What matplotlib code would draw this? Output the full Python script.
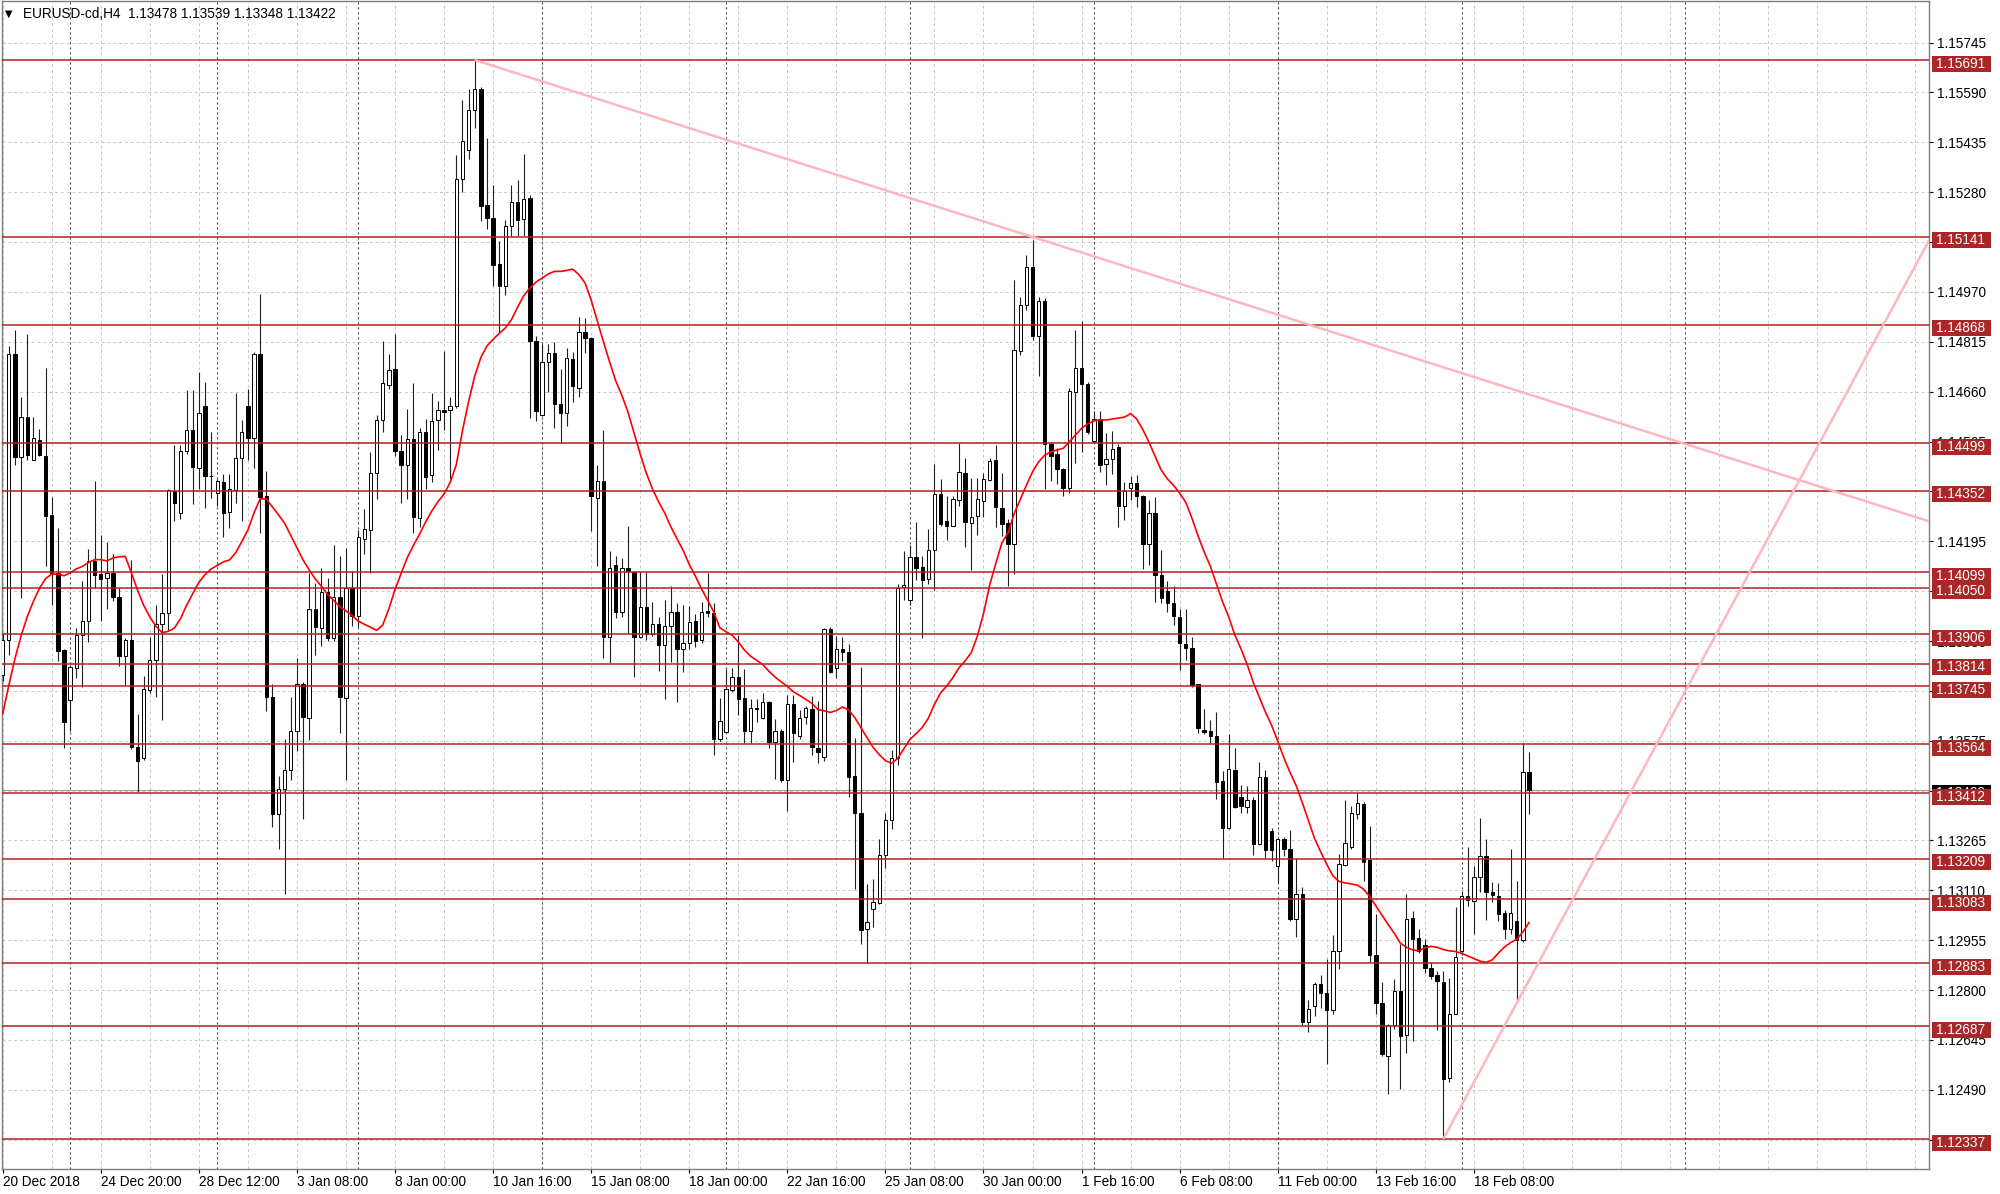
import matplotlib
matplotlib.use('Agg')
import matplotlib.pyplot as plt
import matplotlib.transforms as mtransforms
from matplotlib.patches import Rectangle

symbol = 'EURUSD-cd,H4'
last_ohlc = ['1.13478', '1.13539', '1.13348', '1.13422']

# H4 candles, bar 0 = 20 Dec 2018
opens = [
    1.13780, 1.13889, 1.14777, 1.14456, 1.14581, 1.14449, 1.14511, 1.14461, 1.14277, 1.14097,
    1.13856, 1.13703, 1.13800, 1.13905, 1.13946, 1.14135, 1.14093, 1.14081, 1.14097, 1.14022,
    1.13839, 1.13889, 1.13557, 1.13521, 1.13733, 1.13827, 1.13937, 1.13972, 1.14352, 1.14284,
    1.14476, 1.14542, 1.14423, 1.14617, 1.14399, 1.14346, 1.14378, 1.14285, 1.14355, 1.14454,
    1.14616, 1.14515, 1.14777, 1.14336, 1.13711, 1.13346, 1.13424, 1.13483, 1.13605, 1.13751,
    1.13647, 1.13983, 1.13926, 1.14036, 1.13894, 1.14023, 1.13708, 1.14049, 1.13964, 1.14203,
    1.14229, 1.14407, 1.14572, 1.14682, 1.14732, 1.14475, 1.14432, 1.14513, 1.14268, 1.14536,
    1.14400, 1.14571, 1.14602, 1.14603, 1.14614, 1.15321, 1.15410, 1.15537, 1.15602, 1.15239,
    1.15201, 1.15058, 1.14988, 1.15175, 1.15250, 1.15197, 1.15263, 1.14819, 1.14588, 1.14753,
    1.14779, 1.14623, 1.14593, 1.14762, 1.14672, 1.14845, 1.14828, 1.14331, 1.14381, 1.13898,
    1.14120, 1.13976, 1.14113, 1.14101, 1.13898, 1.13992, 1.13908, 1.13937, 1.13872, 1.13931,
    1.13975, 1.13859, 1.13878, 1.13947, 1.13888, 1.13978, 1.13973, 1.13580, 1.13603, 1.13733,
    1.13774, 1.13709, 1.13606, 1.13678, 1.13647, 1.13696, 1.13572, 1.13606, 1.13454, 1.13689,
    1.13590, 1.13650, 1.13675, 1.13554, 1.13526, 1.13921, 1.13802, 1.13861, 1.13851, 1.13464,
    1.13350, 1.12991, 1.13053, 1.13071, 1.13220, 1.13330, 1.13520, 1.14053, 1.14014, 1.14147,
    1.14116, 1.14078, 1.14168, 1.14341, 1.14257, 1.14244, 1.14323, 1.14408, 1.14253, 1.14273,
    1.14320, 1.14387, 1.14447, 1.14299, 1.14252, 1.14188, 1.14786, 1.14928, 1.15047, 1.14832,
    1.14941, 1.14496, 1.14465, 1.14420, 1.14361, 1.14658, 1.14734, 1.14685, 1.14506, 1.14576,
    1.14434, 1.14450, 1.14487, 1.14306, 1.14362, 1.14376, 1.14337, 1.14187, 1.14284, 1.14091,
    1.14039, 1.14004, 1.13960, 1.13877, 1.13863, 1.13750, 1.13609, 1.13605, 1.13591, 1.13450,
    1.13304, 1.13484, 1.13401, 1.13369, 1.13391, 1.13253, 1.13463, 1.13294, 1.13186, 1.13269,
    1.13239, 1.13022, 1.13100, 1.12701, 1.12749, 1.12819, 1.12791, 1.12739, 1.12922, 1.13189,
    1.13246, 1.13347, 1.13378, 1.13204, 1.12909, 1.12760, 1.12594, 1.12691, 1.12798, 1.12660,
    1.13023, 1.12963, 1.12940, 1.12870, 1.12846, 1.12826, 1.12526, 1.12727, 1.12922, 1.13091,
    1.13077, 1.13150, 1.13217, 1.13105, 1.13093, 1.13039, 1.12989, 1.13015, 1.12956, 1.13478,
]
highs = [
    1.13910, 1.14803, 1.14853, 1.14645, 1.14838, 1.14580, 1.14545, 1.14735, 1.14334, 1.14236,
    1.13860, 1.13812, 1.13925, 1.14073, 1.14172, 1.14382, 1.14215, 1.14192, 1.14156, 1.14049,
    1.13895, 1.14138, 1.13658, 1.13776, 1.13899, 1.13996, 1.14093, 1.14357, 1.14494, 1.14494,
    1.14664, 1.14666, 1.14722, 1.14690, 1.14536, 1.14388, 1.14403, 1.14403, 1.14657, 1.14572,
    1.14669, 1.14783, 1.14964, 1.14412, 1.13751, 1.13466, 1.13580, 1.13711, 1.13833, 1.13757,
    1.14095, 1.14064, 1.14112, 1.14080, 1.14184, 1.14150, 1.14173, 1.14103, 1.14230, 1.14296,
    1.14473, 1.14587, 1.14819, 1.14777, 1.14840, 1.14526, 1.14606, 1.14688, 1.14546, 1.14574,
    1.14657, 1.14631, 1.14786, 1.14642, 1.15397, 1.15566, 1.15602, 1.15691, 1.15606, 1.15448,
    1.15302, 1.15128, 1.15193, 1.15304, 1.15319, 1.15400, 1.15270, 1.14832, 1.14809, 1.14809,
    1.14815, 1.14731, 1.14796, 1.14783, 1.14893, 1.14890, 1.14830, 1.14433, 1.14540, 1.14166,
    1.14149, 1.14143, 1.14244, 1.14104, 1.14100, 1.14100, 1.14005, 1.13961, 1.14014, 1.14056,
    1.14004, 1.13996, 1.13994, 1.13968, 1.14006, 1.14097, 1.14002, 1.13709, 1.13797, 1.13802,
    1.13903, 1.13797, 1.13706, 1.13706, 1.13725, 1.13699, 1.13644, 1.13611, 1.13716, 1.13716,
    1.13671, 1.13683, 1.13714, 1.13699, 1.13926, 1.13929, 1.13900, 1.13898, 1.13875, 1.13585,
    1.13804, 1.13130, 1.13146, 1.13270, 1.13350, 1.13545, 1.14062, 1.14165, 1.14185, 1.14255,
    1.14149, 1.14234, 1.14434, 1.14389, 1.14335, 1.14337, 1.14499, 1.14454, 1.14392, 1.14392,
    1.14408, 1.14454, 1.14493, 1.14406, 1.14265, 1.15006, 1.14955, 1.15086, 1.15133, 1.14955,
    1.14951, 1.14503, 1.14485, 1.14423, 1.14672, 1.14853, 1.14879, 1.14689, 1.14599, 1.14599,
    1.14531, 1.14538, 1.14496, 1.14378, 1.14399, 1.14402, 1.14340, 1.14323, 1.14334, 1.14168,
    1.14073, 1.14057, 1.13983, 1.13983, 1.13896, 1.13752, 1.13674, 1.13641, 1.13664, 1.13480,
    1.13595, 1.13553, 1.13438, 1.13433, 1.13401, 1.13508, 1.13484, 1.13304, 1.13272, 1.13276,
    1.13297, 1.13211, 1.13120, 1.12770, 1.12826, 1.12846, 1.12898, 1.12971, 1.13222, 1.13391,
    1.13372, 1.13412, 1.13385, 1.13310, 1.13036, 1.12826, 1.12694, 1.12836, 1.12943, 1.13098,
    1.13046, 1.12991, 1.12960, 1.12886, 1.12860, 1.12860, 1.12839, 1.13057, 1.13108, 1.13246,
    1.13186, 1.13336, 1.13269, 1.13136, 1.13132, 1.13049, 1.13240, 1.13139, 1.13569, 1.13539,
]
lows = [
    1.13760, 1.13842, 1.14433, 1.14020, 1.14447, 1.14447, 1.14459, 1.14117, 1.13996, 1.13824,
    1.13551, 1.13604, 1.13770, 1.13741, 1.13883, 1.14049, 1.13948, 1.13986, 1.14008, 1.13808,
    1.13747, 1.13550, 1.13415, 1.13515, 1.13723, 1.13711, 1.13640, 1.13919, 1.14257, 1.14263,
    1.14465, 1.14310, 1.14358, 1.14298, 1.14330, 1.14305, 1.14207, 1.14235, 1.14315, 1.14258,
    1.14448, 1.14422, 1.14220, 1.13669, 1.13308, 1.13238, 1.13100, 1.13453, 1.13542, 1.13333,
    1.13576, 1.13842, 1.13871, 1.13884, 1.13884, 1.13599, 1.13453, 1.13931, 1.13928, 1.14156,
    1.14095, 1.14327, 1.14536, 1.14669, 1.14460, 1.14315, 1.14327, 1.14222, 1.14239, 1.14356,
    1.14378, 1.14479, 1.14540, 1.14388, 1.14610, 1.15282, 1.15384, 1.15481, 1.15191, 1.15165,
    1.14988, 1.14845, 1.14962, 1.15145, 1.15145, 1.15145, 1.14577, 1.14570, 1.14584, 1.14658,
    1.14548, 1.14501, 1.14553, 1.14627, 1.14642, 1.14779, 1.14227, 1.14117, 1.13833, 1.13817,
    1.13957, 1.13960, 1.13908, 1.13774, 1.13895, 1.13888, 1.13900, 1.13791, 1.13706, 1.13820,
    1.13694, 1.13789, 1.13861, 1.13867, 1.13878, 1.13960, 1.13530, 1.13575, 1.13601, 1.13727,
    1.13654, 1.13568, 1.13568, 1.13634, 1.13642, 1.13551, 1.13456, 1.13446, 1.13358, 1.13510,
    1.13582, 1.13626, 1.13530, 1.13505, 1.13513, 1.13785, 1.13771, 1.13823, 1.13399, 1.13113,
    1.12944, 1.12883, 1.12996, 1.13068, 1.13180, 1.13300, 1.13500, 1.14014, 1.13996, 1.14076,
    1.13895, 1.14061, 1.14045, 1.14244, 1.14199, 1.14242, 1.14306, 1.14178, 1.14107, 1.14216,
    1.14271, 1.14382, 1.14240, 1.14211, 1.14056, 1.14092, 1.14775, 1.14915, 1.14822, 1.14710,
    1.14356, 1.14382, 1.14372, 1.14337, 1.14344, 1.14437, 1.14472, 1.14527, 1.14503, 1.14410,
    1.14371, 1.14403, 1.14240, 1.14261, 1.14323, 1.14302, 1.14108, 1.14122, 1.14007, 1.14004,
    1.13974, 1.13935, 1.13796, 1.13827, 1.13743, 1.13599, 1.13595, 1.13567, 1.13394, 1.13211,
    1.13300, 1.13366, 1.13350, 1.13350, 1.13221, 1.13250, 1.13211, 1.13200, 1.13133, 1.13217,
    1.13015, 1.12964, 1.12690, 1.12670, 1.12718, 1.12743, 1.12570, 1.12725, 1.12867, 1.13185,
    1.13240, 1.13333, 1.13139, 1.12886, 1.12725, 1.12595, 1.12477, 1.12679, 1.12492, 1.12606,
    1.12643, 1.12915, 1.12853, 1.12834, 1.12677, 1.12337, 1.12513, 1.12725, 1.12909, 1.13062,
    1.12974, 1.13105, 1.13018, 1.13074, 1.13015, 1.12958, 1.12974, 1.12760, 1.12950, 1.13348,
]
closes = [
    1.13889, 1.14777, 1.14456, 1.14581, 1.14462, 1.14516, 1.14462, 1.14275, 1.14097, 1.13854,
    1.13634, 1.13803, 1.13905, 1.13946, 1.14135, 1.14091, 1.14077, 1.14097, 1.14022, 1.13839,
    1.13889, 1.13557, 1.13513, 1.13735, 1.13825, 1.13939, 1.13972, 1.14355, 1.14313, 1.14476,
    1.14542, 1.14425, 1.14595, 1.14399, 1.14397, 1.14382, 1.14283, 1.14359, 1.14454, 1.14534,
    1.14517, 1.14777, 1.14334, 1.13711, 1.13346, 1.13424, 1.13483, 1.13605, 1.13751, 1.13650,
    1.13983, 1.13928, 1.14036, 1.13894, 1.14023, 1.13711, 1.14049, 1.13964, 1.14207, 1.14232,
    1.14407, 1.14572, 1.14686, 1.14726, 1.14475, 1.14432, 1.14513, 1.14270, 1.14536, 1.14394,
    1.14568, 1.14602, 1.14598, 1.14616, 1.15321, 1.15439, 1.15537, 1.15602, 1.15237, 1.15201,
    1.15054, 1.14988, 1.15175, 1.15250, 1.15193, 1.15259, 1.14819, 1.14601, 1.14753, 1.14779,
    1.14623, 1.14593, 1.14766, 1.14679, 1.14845, 1.14828, 1.14335, 1.14381, 1.13898, 1.14113,
    1.13976, 1.14113, 1.14104, 1.13898, 1.13992, 1.13908, 1.13937, 1.13872, 1.13931, 1.13975,
    1.13859, 1.13878, 1.13944, 1.13885, 1.13975, 1.13973, 1.13580, 1.13637, 1.13735, 1.13774,
    1.13706, 1.13606, 1.13678, 1.13675, 1.13696, 1.13570, 1.13606, 1.13454, 1.13689, 1.13599,
    1.13647, 1.13678, 1.13557, 1.13541, 1.13921, 1.13789, 1.13861, 1.13851, 1.13461, 1.13350,
    1.12988, 1.13013, 1.13075, 1.13220, 1.13330, 1.13520, 1.14050, 1.14059, 1.14147, 1.14113,
    1.14076, 1.14168, 1.14341, 1.14250, 1.14244, 1.14327, 1.14410, 1.14255, 1.14271, 1.14325,
    1.14389, 1.14444, 1.14302, 1.14250, 1.14188, 1.14789, 1.14931, 1.15047, 1.14832, 1.14941,
    1.14496, 1.14460, 1.14420, 1.14361, 1.14662, 1.14734, 1.14685, 1.14534, 1.14576, 1.14431,
    1.14450, 1.14482, 1.14306, 1.14351, 1.14376, 1.14337, 1.14187, 1.14284, 1.14091, 1.14018,
    1.14004, 1.13962, 1.13879, 1.13863, 1.13748, 1.13616, 1.13602, 1.13591, 1.13447, 1.13304,
    1.13488, 1.13369, 1.13373, 1.13391, 1.13253, 1.13463, 1.13235, 1.13235, 1.13269, 1.13239,
    1.13020, 1.13100, 1.12701, 1.12742, 1.12819, 1.12791, 1.12739, 1.12922, 1.13191, 1.13257,
    1.13350, 1.13381, 1.13199, 1.12909, 1.12760, 1.12601, 1.12691, 1.12798, 1.12658, 1.13020,
    1.12960, 1.12922, 1.12870, 1.12844, 1.12829, 1.12523, 1.12727, 1.12903, 1.13093, 1.13081,
    1.13150, 1.13217, 1.13105, 1.13095, 1.13036, 1.12989, 1.13039, 1.12956, 1.13478, 1.13422,
]
# moving average line as drawn on the chart
ma = [
    1.13658, 1.13747, 1.13830, 1.13901, 1.13960, 1.14008, 1.14049, 1.14079, 1.14093, 1.14093,
    1.14088, 1.14097, 1.14109, 1.14117, 1.14129, 1.14138, 1.14138, 1.14134, 1.14143, 1.14147,
    1.14148, 1.14097, 1.14043, 1.13996, 1.13960, 1.13931, 1.13911, 1.13915, 1.13925, 1.13954,
    1.13996, 1.14032, 1.14067, 1.14091, 1.14109, 1.14120, 1.14131, 1.14137, 1.14159, 1.14194,
    1.14230, 1.14283, 1.14327, 1.14327, 1.14302, 1.14277, 1.14251, 1.14213, 1.14175, 1.14137,
    1.14106, 1.14078, 1.14055, 1.14030, 1.14011, 1.13992, 1.13979, 1.13964, 1.13947, 1.13937,
    1.13928, 1.13918, 1.13935, 1.13985, 1.14045, 1.14095, 1.14144, 1.14182, 1.14217, 1.14255,
    1.14289, 1.14318, 1.14342, 1.14378, 1.14433, 1.14538, 1.14629, 1.14708, 1.14766, 1.14802,
    1.14823, 1.14841, 1.14858, 1.14884, 1.14923, 1.14958, 1.14982, 1.15001, 1.15013, 1.15026,
    1.15034, 1.15034, 1.15037, 1.15041, 1.15024, 1.14998, 1.14945, 1.14880, 1.14815, 1.14753,
    1.14694, 1.14649, 1.14597, 1.14531, 1.14466, 1.14407, 1.14358, 1.14318, 1.14283, 1.14240,
    1.14203, 1.14167, 1.14123, 1.14087, 1.14047, 1.14012, 1.13975, 1.13926, 1.13914, 1.13903,
    1.13882, 1.13857, 1.13838, 1.13825, 1.13812, 1.13791, 1.13773, 1.13758, 1.13744, 1.13727,
    1.13716, 1.13704, 1.13691, 1.13672, 1.13668, 1.13663, 1.13669, 1.13680, 1.13671, 1.13647,
    1.13616, 1.13585, 1.13554, 1.13532, 1.13513, 1.13505, 1.13520, 1.13550, 1.13579, 1.13597,
    1.13616, 1.13645, 1.13688, 1.13724, 1.13745, 1.13771, 1.13802, 1.13823, 1.13849, 1.13900,
    1.13970, 1.14058, 1.14126, 1.14190, 1.14221, 1.14281, 1.14325, 1.14369, 1.14411, 1.14442,
    1.14463, 1.14473, 1.14479, 1.14484, 1.14504, 1.14525, 1.14546, 1.14560, 1.14569, 1.14573,
    1.14572, 1.14575, 1.14578, 1.14581, 1.14592, 1.14575, 1.14542, 1.14503, 1.14459, 1.14416,
    1.14389, 1.14369, 1.14345, 1.14316, 1.14267, 1.14212, 1.14162, 1.14118, 1.14062, 1.14007,
    1.13960, 1.13904, 1.13861, 1.13813, 1.13757, 1.13710, 1.13664, 1.13623, 1.13574, 1.13522,
    1.13477, 1.13436, 1.13383, 1.13328, 1.13272, 1.13230, 1.13191, 1.13155, 1.13138, 1.13133,
    1.13130, 1.13126, 1.13114, 1.13091, 1.13062, 1.13033, 1.13004, 1.12977, 1.12946, 1.12933,
    1.12925, 1.12922, 1.12931, 1.12936, 1.12933, 1.12926, 1.12922, 1.12920, 1.12914, 1.12906,
    1.12898, 1.12890, 1.12886, 1.12894, 1.12915, 1.12934, 1.12948, 1.12958, 1.12981, 1.13010,
]

levels = [1.15691, 1.15141, 1.14868, 1.14499, 1.14352, 1.14099, 1.14050, 1.13906, 1.13814,
          1.13745, 1.13564, 1.13412, 1.13209, 1.13083, 1.12883, 1.12687, 1.12337]
bid = 1.13422

y_ticks = [1.15745, 1.15590, 1.15435, 1.15280, 1.15125, 1.14970, 1.14815, 1.14660, 1.14505,
           1.14350, 1.14195, 1.14040, 1.13885, 1.13730, 1.13575, 1.13420, 1.13265, 1.13110,
           1.12955, 1.12800, 1.12645, 1.12490, 1.12335]
x_tick_bars = [0, 16, 32, 48, 64, 80, 96, 112, 128, 144, 160, 176, 192, 208, 224, 240]
x_tick_labels = ['20 Dec 2018', '24 Dec 20:00', '28 Dec 12:00', '3 Jan 08:00', '8 Jan 00:00',
                 '10 Jan 16:00', '15 Jan 08:00', '18 Jan 00:00', '22 Jan 16:00', '25 Jan 08:00',
                 '30 Jan 00:00', '1 Feb 16:00', '6 Feb 08:00', '11 Feb 00:00', '13 Feb 16:00',
                 '18 Feb 08:00']
week_bars = [11, 35, 58, 88, 118, 148, 178, 208, 238, 274.5]
trend_down = [(77, 1.15691), (168, 1.15141)]
trend_up = [(235, 1.12337), (247, 1.12760)]

W, H = 2000, 1194
FS = 9.8
plt.rcParams['font.family'] = ['Liberation Sans', 'DejaVu Sans']

fig = plt.figure(figsize=(W / 100, H / 100), dpi=100)
ax = fig.add_axes([2 / W, 25 / H, 1927 / W, 1168 / H])
xmin, xmax = -0.11, 314.24
ymin, ymax = 1.122439, 1.158744
ax.set_xlim(xmin, xmax)
ax.set_ylim(ymin, ymax)
px = (ymax - ymin) / 1168.0   # one pixel in price units

# grid
for b in range(0, 314, 8):
    ax.axvline(b, color='#c8c8c8', lw=0.7, ls=(0, (3, 3)), zorder=0)
for t in y_ticks:
    ax.axhline(t, color='#c8c8c8', lw=0.7, ls=(0, (3, 3)), zorder=0)
for b in week_bars:
    ax.axvline(b, color='#505050', lw=0.8, ls=(0, (2, 2.5)), zorder=0.5)

ax.axhline(bid, color='#a0a0a0', lw=0.8, zorder=1)

# candles
xs = list(range(len(closes)))
ax.vlines(xs, lows, highs, color='#202020', lw=0.8, zorder=3)
bottoms = [min(o, c) for o, c in zip(opens, closes)]
heights = [max(abs(c - o), 0.6 * px) for o, c in zip(opens, closes)]
colors = ['white' if c >= o else 'black' for o, c in zip(opens, closes)]
ax.bar(xs, heights, bottom=bottoms, width=0.55, color=colors,
       edgecolor='black', linewidth=0.7, zorder=4)

ax.plot(xs, ma, color='#ff0000', lw=1.2, zorder=5)

for lv in levels:
    ax.axhline(lv, color='#b22222', lw=1.1, zorder=6)

# trend rays
for (x1, y1), (x2, y2) in [trend_down, trend_up]:
    k = (y2 - y1) / (x2 - x1)
    ax.plot([x1, xmax], [y1, y1 + k * (xmax - x1)], color='#ffb6c1', lw=1.8,
            zorder=6, solid_capstyle='butt')

# axes styling
for s in ax.spines.values():
    s.set_color('#7f7f7f')
    s.set_linewidth(1.0)
ax.yaxis.tick_right()
ax.set_yticks(y_ticks)
ax.set_yticklabels(['%.5f' % t for t in y_ticks])
ax.set_xticks(x_tick_bars)
ax.set_xticklabels(x_tick_labels, ha='left')
ax.tick_params(axis='y', length=3, width=0.8, pad=2.5, labelsize=FS, colors='black')
ax.tick_params(axis='x', length=3, width=0.8, pad=1.5, labelsize=FS, colors='black')

# price labels on the right
blend = mtransforms.blended_transform_factory(ax.transAxes, ax.transData)
bx0 = (1931.7 - 2) / 1927
bw = 59.0 / 1927
tx = (1936.0 - 2) / 1927


def price_box(p, face, z):
    ax.add_patch(Rectangle((bx0, p - 11.5 * px), bw, 16 * px, transform=blend,
                           facecolor=face, edgecolor='none', clip_on=False, zorder=z))
    ax.text(tx, p - 3.5 * px, '%.5f' % p, transform=blend, color='white',
            fontsize=FS, va='center', ha='left', clip_on=False, zorder=z + 0.1)


price_box(bid, 'black', 10)
for lv in levels:
    price_box(lv, '#a82828', 11)

# header
fig.text(5 / W, 1 - 14 / H, '\u25bc', fontsize=7, va='center', ha='left',
         family=['DejaVu Sans'])
fig.text(23 / W, 1 - 14 / H, symbol + '  ' + ' '.join(last_ohlc), fontsize=FS,
         va='center', ha='left')

fig.savefig('out.png', dpi=100, facecolor='white')
